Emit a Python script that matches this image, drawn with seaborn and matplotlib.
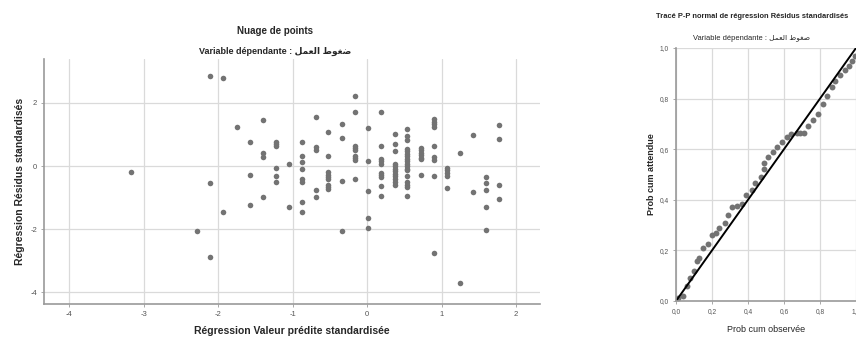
import matplotlib

matplotlib.use("Agg")
import matplotlib.pyplot as plt
import seaborn as sns

# scatter: standardized predicted value vs standardized residual
pred_std = (
    [-3.17, -2.29, -2.11, -2.11, -2.11, -1.93, -1.93, -1.75]
    + [-1.58] * 3 + [-1.40] * 4 + [-1.22] * 6 + [-1.05] * 2
    + [-0.87] * 8 + [-0.69] * 5 + [-0.52] * 9 + [-0.34] * 4
    + [-0.16] * 9 + [0.01] * 5 + [0.19] * 10 + [0.37] * 12
    + [0.54] * 18 + [0.72] * 7 + [0.89] * 9 + [1.07] * 5
    + [1.24] * 2 + [1.42] * 2 + [1.60] * 5 + [1.77] * 4
)
resid_std = [
    -0.20, -2.07, 2.85, -0.54, -2.87, 2.79, -1.45, 1.25,
    0.77, -0.29, -1.24,
    1.45, 0.41, 0.29, -0.97,
    0.77, 0.70, 0.63, -0.07, -0.30, -0.51,
    0.07, -1.30,
    0.76, 0.33, 0.13, -0.08, -0.40, -0.50, -1.14, -1.46,
    1.55, 0.60, 0.52, -0.77, -0.98,
    1.07, 0.33, -0.19, -0.27, -0.35, -0.42, -0.59, -0.67, -0.74,
    1.33, 0.90, -0.47, -2.05,
    2.22, 1.70, 0.63, 0.56, 0.50, 0.32, 0.24, 0.18, -0.41,
    1.22, 0.17, -0.79, -1.64, -1.96,
    1.70, 0.63, 0.22, 0.15, 0.08, -0.21, -0.27, -0.35, -0.63, -0.95,
    1.01, 0.69, 0.48, 0.08, 0.00, -0.08, -0.16, -0.24, -0.32, -0.40, -0.51, -0.61,
    1.16, 0.94, 0.84, 0.55, 0.47, 0.39, 0.31, 0.23, 0.15, 0.07, -0.01, -0.09,
    -0.14, -0.33, -0.51, -0.59, -0.67, -0.96,
    0.58, 0.50, 0.42, 0.34, 0.27, 0.22, -0.27,
    1.48, 1.40, 1.32, 1.24, 0.63, 0.29, 0.18, -0.33, -2.76,
    -0.05, -0.13, -0.21, -0.30, -0.71,
    0.40, -3.72,
    0.99, -0.83,
    -0.35, -0.54, -0.77, -1.30, -2.04,
    1.29, 0.87, -0.61, -1.03,
]

# P-P plot: observed vs expected cumulative probability
pp_obs = [0.01, 0.04, 0.06, 0.08, 0.10, 0.115, 0.13, 0.15, 0.18, 0.20, 0.22,
          0.24, 0.27, 0.29, 0.31, 0.34, 0.365, 0.39, 0.42, 0.44, 0.47, 0.49,
          0.49, 0.51, 0.54, 0.56, 0.59, 0.615, 0.64, 0.67, 0.69, 0.71, 0.735,
          0.76, 0.79, 0.815, 0.84, 0.865, 0.885, 0.91, 0.94, 0.96, 0.975, 0.995]
pp_exp = [0.01, 0.02, 0.06, 0.09, 0.12, 0.16, 0.17, 0.21, 0.225, 0.26, 0.27,
          0.29, 0.31, 0.34, 0.37, 0.375, 0.385, 0.42, 0.44, 0.465, 0.49, 0.52,
          0.545, 0.57, 0.59, 0.61, 0.63, 0.65, 0.66, 0.665, 0.665, 0.665, 0.69,
          0.715, 0.74, 0.78, 0.81, 0.845, 0.87, 0.895, 0.915, 0.93, 0.95, 0.97]
diag_ref = [0.0, 1.0]

sc_xticks = [-4, -3, -2, -1, 0, 1, 2]
sc_yticks = [-4, -2, 0, 2]
pp_ticks = [0.0, 0.2, 0.4, 0.6, 0.8, 1.0]
pp_ticklabels = ["0,0", "0,2", "0,4", "0,6", "0,8", "1,0"]

dep_var = "\ufede\ufee4\ufecc\ufedf\ufe8d \ufec1\ufeee\ufed0\ufebf"  # ضغوط العمل

sns.set_style("white")
plt.rcParams["font.family"] = ["Liberation Sans", "DejaVu Sans"]
plt.rcParams["axes.unicode_minus"] = False

DOT = "#737373"
GRID = "#dadada"
SPINE = "#9a9a9a"

fig = plt.figure(figsize=(8.56, 3.4), dpi=100)
W, H = 856, 340


def px_axes(l, t, r, b):
    return fig.add_axes([l / W, 1 - b / H, (r - l) / W, (b - t) / H])


def style(ax):
    for s in ["top", "right"]:
        ax.spines[s].set_visible(False)
    for s in ["left", "bottom"]:
        ax.spines[s].set_color(SPINE)
        ax.spines[s].set_linewidth(1.2)
    ax.grid(True, color=GRID, linewidth=0.9)
    ax.set_axisbelow(True)
    ax.tick_params(length=2, width=0.6, color=SPINE, labelsize=5.5,
                   labelcolor="#555555", pad=3, bottom=True, left=True)


# left panel
ax1 = px_axes(44, 59, 540, 304)
sns.scatterplot(x=pred_std, y=resid_std, ax=ax1, color=DOT, s=16,
                linewidth=0, legend=False)
ax1.set_xlim(-4.34, 2.32)
ax1.set_ylim(-4.37, 3.39)
ax1.set_xticks(sc_xticks)
ax1.set_yticks(sc_yticks)
style(ax1)
ax1.set_xlabel("Régression Valeur prédite standardisée", fontsize=7.5,
               fontweight="bold", labelpad=6)
ax1.set_ylabel("Régression Résidus standardisés", fontsize=7.5,
               fontweight="bold", labelpad=4)
fig.text(275 / W, 1 - 31 / H, "Nuage de points", ha="center", va="center",
         fontsize=7, fontweight="bold")
fig.text(275 / W, 1 - 51 / H, "Variable dépendante : " + dep_var,
         ha="center", va="center", fontsize=6.5, fontweight="bold")

# right panel
ax2 = px_axes(676, 48, 856, 301)
sns.scatterplot(x=pp_obs, y=pp_exp, ax=ax2, color=DOT, s=18,
                linewidth=0, legend=False)
sns.lineplot(x=diag_ref, y=diag_ref, ax=ax2, color="black", linewidth=1.4)
ax2.set_xlim(0, 1)
ax2.set_ylim(0, 1)
ax2.set_xticks(pp_ticks)
ax2.set_xticklabels(pp_ticklabels)
ax2.set_yticks(pp_ticks)
ax2.set_yticklabels(pp_ticklabels)
style(ax2)
ax2.tick_params(labelsize=4.8)
ax2.set_xlabel("Prob cum observée", fontsize=6.5, labelpad=7)
ax2.set_ylabel("Prob cum attendue", fontsize=6.5, fontweight="bold",
               labelpad=3)
fig.text(752 / W, 1 - 17 / H,
         "Tracé P-P normal de régression Résidus standardisés",
         ha="center", va="center", fontsize=5.4, fontweight="bold")
fig.text(752 / W, 1 - 38 / H, "Variable dépendante : " + dep_var,
         ha="center", va="center", fontsize=5.4)

fig.savefig("out.png", dpi=100)
plt.close(fig)
